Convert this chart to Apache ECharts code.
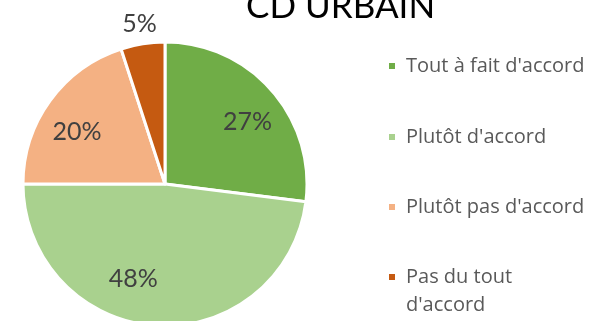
<!DOCTYPE html>
<html>
<head>
<meta charset="utf-8">
<script src="https://cdn.jsdelivr.net/npm/echarts@6/dist/echarts.min.js"></script>
<style>
  html, body { margin: 0; padding: 0; background: #ffffff; }
  #chart { width: 591px; height: 321px; }
</style>
</head>
<body>
<div id="chart"></div>
<script>
// Survey answers, share of respondents (%)
const categories = ["Tout à fait d'accord", "Plutôt d'accord", "Plutôt pas d'accord", "Pas du tout d'accord"];
const shares = [27, 48, 20, 5];
const sliceColors = ['#70AD47', '#A9D18E', '#F4B183', '#C55A11'];
const chartTitle = 'CD URBAIN';

// Label nudges away from the default mid-radius spot
const labelOffsets = [[27, -13], [-27, 21], [-28, -9], [-14, -87]];
// Legend row centres (px from top)
const legendRows = [66, 137, 207, 277];

const FONT = 'Lato';
const LEGEND_FONT = 'Open Sans';

const pieData = categories.map((name, i) => ({
  name: name,
  value: shares[i],
  itemStyle: { color: sliceColors[i] },
  label: { offset: labelOffsets[i] }
}));

const legends = categories.map((name, i) => {
  // last entry wraps onto two lines; a leading blank line keeps the
  // first text line level with its colour swatch
  const twoLines = name === "Pas du tout d'accord";
  return {
    data: [name],
    orient: 'vertical',
    left: 387,
    top: twoLines ? legendRows[i] - 42 : legendRows[i] - 14,
    padding: 0,
    itemWidth: 8,
    itemHeight: 8,
    icon: 'rect',
    selectedMode: false,
    formatter: twoLines ? '\nPas du tout\nd\'accord' : '{name}',
    textStyle: {
      fontFamily: LEGEND_FONT,
      fontSize: 20,
      color: '#595959',
      lineHeight: 28,
      padding: [0, 0, 0, 5]
    }
  };
});

const chart = echarts.init(document.getElementById('chart'), null, { renderer: 'canvas' });
chart.setOption({
  backgroundColor: '#ffffff',
  animation: false,
  title: {
    text: chartTitle,
    left: 246,
    top: -11,
    padding: 0,
    textStyle: { fontFamily: FONT, fontSize: 35, fontWeight: 'normal', color: '#000000' }
  },
  legend: legends,
  series: [{
    type: 'pie',
    center: [165, 184],
    radius: [0, 142],
    startAngle: 90,
    clockwise: true,
    data: pieData,
    itemStyle: { borderColor: '#ffffff', borderWidth: 3 },
    label: {
      show: true,
      position: 'inside',
      formatter: '{c}%',
      fontFamily: FONT,
      fontSize: 25,
      color: '#404040'
    },
    labelLine: { show: false },
    emphasis: { disabled: true }
  }]
});
</script>
</body>
</html>
